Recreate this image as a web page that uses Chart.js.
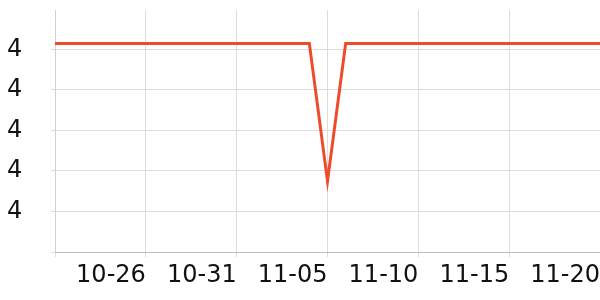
<!DOCTYPE html>
<html>
<head>
<meta charset="utf-8">
<script src="https://cdn.jsdelivr.net/npm/chart.js@4/dist/chart.umd.min.js"></script>
<style>
  html, body { margin: 0; padding: 0; background: #fff; }
  #wrap { width: 600px; height: 300px; }
</style>
</head>
<body>
<div id="wrap"><canvas id="grafica"></canvas></div>
<script>
// datos
const fechas = [
  '10-21','10-22','10-23','10-24','10-25','10-26','10-27','10-28','10-29','10-30','10-31',
  '11-01','11-02','11-03','11-04','11-05','11-06','11-07','11-08','11-09','11-10',
  '11-11','11-12','11-13','11-14','11-15','11-16','11-17','11-18','11-19','11-20'
];
const valores = [
  4.103,4.103,4.103,4.103,4.103,4.103,4.103,4.103,4.103,4.103,4.103,
  4.103,4.103,4.103,4.103,4.035,4.103,4.103,4.103,4.103,4.103,
  4.103,4.103,4.103,4.103,4.103,4.103,4.103,4.103,4.103,4.103
];
const yMin = 4.00, yMax = 4.1195, yPaso = 0.02;
const cadaN = 5; // etiqueta cada 5 dias

const fuente = { family: 'DejaVu Sans', size: 24 };

new Chart(document.getElementById('grafica'), {
  type: 'line',
  data: {
    labels: fechas,
    datasets: [{
      data: valores,
      borderColor: '#ee4a2c',
      borderWidth: 3,
      pointRadius: 0,
      tension: 0,
      fill: false
    }]
  },
  options: {
    responsive: true,
    maintainAspectRatio: false,
    animation: false,
    layout: { padding: { left: 7, top: 10, right: 0, bottom: 0 } },
    plugins: { legend: { display: false }, tooltip: { enabled: false } },
    scales: {
      x: {
        grid: {
          color: c => (c.index % cadaN === 0 ? '#dcdcdc' : 'rgba(0,0,0,0)'),
          tickLength: 5
        },
        border: { color: '#bdbdbd' },
        ticks: {
          autoSkip: false,
          maxRotation: 0,
          align: 'end',
          padding: 4,
          color: '#111',
          font: fuente,
          callback: (v, i) => (i % cadaN === 0 && i > 0 ? fechas[i] : '')
        },
        afterFit: s => { s.height = 48; s.paddingLeft = 0; s.paddingRight = 0; }
      },
      y: {
        min: yMin,
        max: yMax,
        grid: { color: '#dcdcdc', tickLength: 4 },
        border: { color: '#d0d0d0' },
        ticks: {
          stepSize: yPaso,
          includeBounds: false,
          crossAlign: 'far',
          color: '#111',
          font: fuente,
          callback: (v, i) => (i === 0 ? '' : Math.round(v).toString())
        },
        afterFit: s => { s.width = 48; s.paddingTop = 0; s.paddingBottom = 0; }
      }
    }
  }
});
</script>
</body>
</html>
